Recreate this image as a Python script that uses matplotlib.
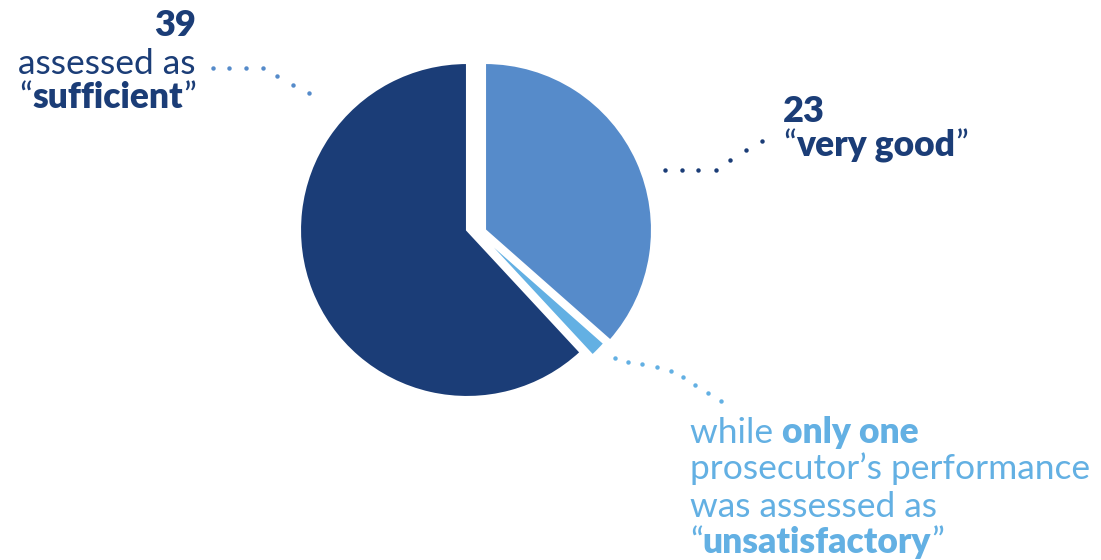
import matplotlib
matplotlib.use("Agg")
import matplotlib.pyplot as plt

# data
labels = ["very good", "unsatisfactory", "sufficient"]
counts = [23, 1, 39]
colors = ["#568BCA", "#63B0E3", "#1B3D77"]

NAVY = "#1B3D77"
MID = "#568BCA"
LIGHT = "#63B0E3"

W, H = 1101, 560
plt.rcParams["font.family"] = ["Lato", "DejaVu Sans"]

fig = plt.figure(figsize=(W / 100, H / 100), dpi=100)
ax = fig.add_axes([0, 0, 1, 1])

cx, cy, rad = 467, H - 230, 167
wedges, _ = ax.pie(counts, colors=colors, startangle=90, counterclock=False,
                   center=(cx, cy), radius=rad,
                   wedgeprops=dict(edgecolor="white", linewidth=1.5))
# slight manual separation of slices (px)
shifts = [(18, 0), (12, -3), (0, 0)]
for w, (dx, dy) in zip(wedges, shifts):
    w.set_center((cx + dx, cy + dy))

ax.set_xlim(0, W)
ax.set_ylim(0, H)
ax.set_aspect("equal")
ax.axis("off")

renderer = fig.canvas.get_renderer()
REG = "normal"
BOLD = "heavy"
FS = 25.5


def rich_line(x, y, parts, color, size=FS, ha="left"):
    """Draw a line made of (text, weight) pieces; y is image-row of baseline."""
    items = []
    for txt, wt in parts:
        t = ax.text(0, H - y, txt, fontsize=size, fontweight=wt, color=color,
                    va="baseline", ha="left")
        items.append((t, t.get_window_extent(renderer).width))
    total = sum(w for _, w in items)
    pos = x - total if ha == "right" else x
    for t, w in items:
        t.set_x(pos)
        pos += w


def dots(pts, color):
    xs = [p[0] for p in pts]
    ys = [H - p[1] for p in pts]
    ax.plot(xs, ys, "o", color=color, markersize=3.2, markeredgewidth=0)


# "sufficient" label
rich_line(196, 36, [("39", BOLD)], NAVY, 26, ha="right")
rich_line(196, 74, [("assessed as", REG)], NAVY, ha="right")
rich_line(196, 108, [("\u201c", REG), ("sufficient", BOLD), ("\u201d", REG)],
          NAVY, ha="right")
dots([(213, 68), (229, 68), (246, 68), (263, 68), (277, 76), (293, 85), (309, 93)], MID)

# "very good" label
rich_line(783, 122, [("23", BOLD)], NAVY, 26)
rich_line(783, 156, [("\u201c", REG), ("very good", BOLD), ("\u201d", REG)], NAVY)
dots([(665, 170), (682, 170), (698, 170), (716, 170), (730, 160), (746, 150), (762, 141)], NAVY)

# "unsatisfactory" label
rich_line(690, 443, [("while ", REG), ("only one", BOLD)], LIGHT)
rich_line(690, 479, [("prosecutor\u2019s performance", REG)], LIGHT)
rich_line(690, 517, [("was assessed as", REG)], LIGHT)
rich_line(690, 553, [("\u201c", REG), ("unsatisfactory", BOLD), ("\u201d", REG)], LIGHT)
dots([(615, 358), (628, 362), (642, 364), (657, 367), (671, 371), (683, 377),
      (695, 385), (708, 393), (721, 401)], LIGHT)

fig.savefig("out.png", dpi=100)
